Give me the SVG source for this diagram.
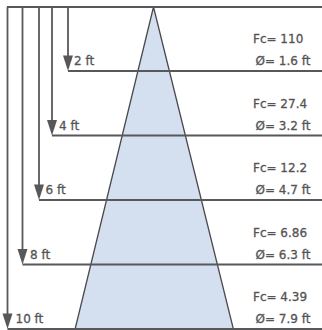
<svg xmlns="http://www.w3.org/2000/svg" width="322" height="330" viewBox="0 0 322 330">
<style>
.ln{stroke:#58585a;stroke-width:1.8;fill:none}
.ah{fill:#58585a}
.t{font-family:"DejaVu Sans",sans-serif;font-size:12px;fill:#545456;stroke:#545456;stroke-width:0.3}
</style>
<rect width="322" height="330" fill="#ffffff"/>
<g id="cone">
<polygon points="153.5,7 75,329.5 233.5,329.5" fill="#d4dff0" stroke="#4a4a4c" stroke-width="1.3"/>
</g>
<g id="connectors">
<line class="ln" x1="7" y1="7" x2="322" y2="7"/>
<line class="ln" x1="7.5" y1="7" x2="7.5" y2="318"/>
<line class="ln" x1="22.5" y1="7" x2="22.5" y2="253"/>
<line class="ln" x1="39" y1="7" x2="39" y2="189"/>
<line class="ln" x1="52" y1="7" x2="52" y2="125"/>
<line class="ln" x1="68" y1="7" x2="68" y2="60"/>
<line class="ln" x1="68" y1="71" x2="322" y2="71"/>
<line class="ln" x1="52" y1="135.5" x2="322" y2="135.5"/>
<line class="ln" x1="39" y1="200" x2="322" y2="200"/>
<line class="ln" x1="22.5" y1="264.5" x2="322" y2="264.5"/>
<line class="ln" x1="7.5" y1="329" x2="322" y2="329"/>
<polygon class="ah" points="63,55.5 73,55.5 68,71"/>
<polygon class="ah" points="47,120 57,120 52,135.5"/>
<polygon class="ah" points="34,184.5 44,184.5 39,200"/>
<polygon class="ah" points="17.5,249 27.5,249 22.5,264.5"/>
<polygon class="ah" points="2.5,313.5 12.5,313.5 7.5,329"/>
</g>
<g id="n2ft"><text class="t" x="74" y="65">2 ft</text><text class="t" x="253" y="43">Fc= 110</text><text class="t" x="255.5" y="65">Ø= 1.6 ft</text></g>
<g id="n4ft"><text class="t" x="59" y="129.5">4 ft</text><text class="t" x="253" y="107.5">Fc= 27.4</text><text class="t" x="255.5" y="129.5">Ø= 3.2 ft</text></g>
<g id="n6ft"><text class="t" x="45.5" y="194">6 ft</text><text class="t" x="253" y="172">Fc= 12.2</text><text class="t" x="255.5" y="194">Ø= 4.7 ft</text></g>
<g id="n8ft"><text class="t" x="30" y="258.5">8 ft</text><text class="t" x="253" y="236.5">Fc= 6.86</text><text class="t" x="255.5" y="258.5">Ø= 6.3 ft</text></g>
<g id="n10ft"><text class="t" x="15.5" y="323">10 ft</text><text class="t" x="253" y="301">Fc= 4.39</text><text class="t" x="255.5" y="323">Ø= 7.9 ft</text></g>
</svg>
